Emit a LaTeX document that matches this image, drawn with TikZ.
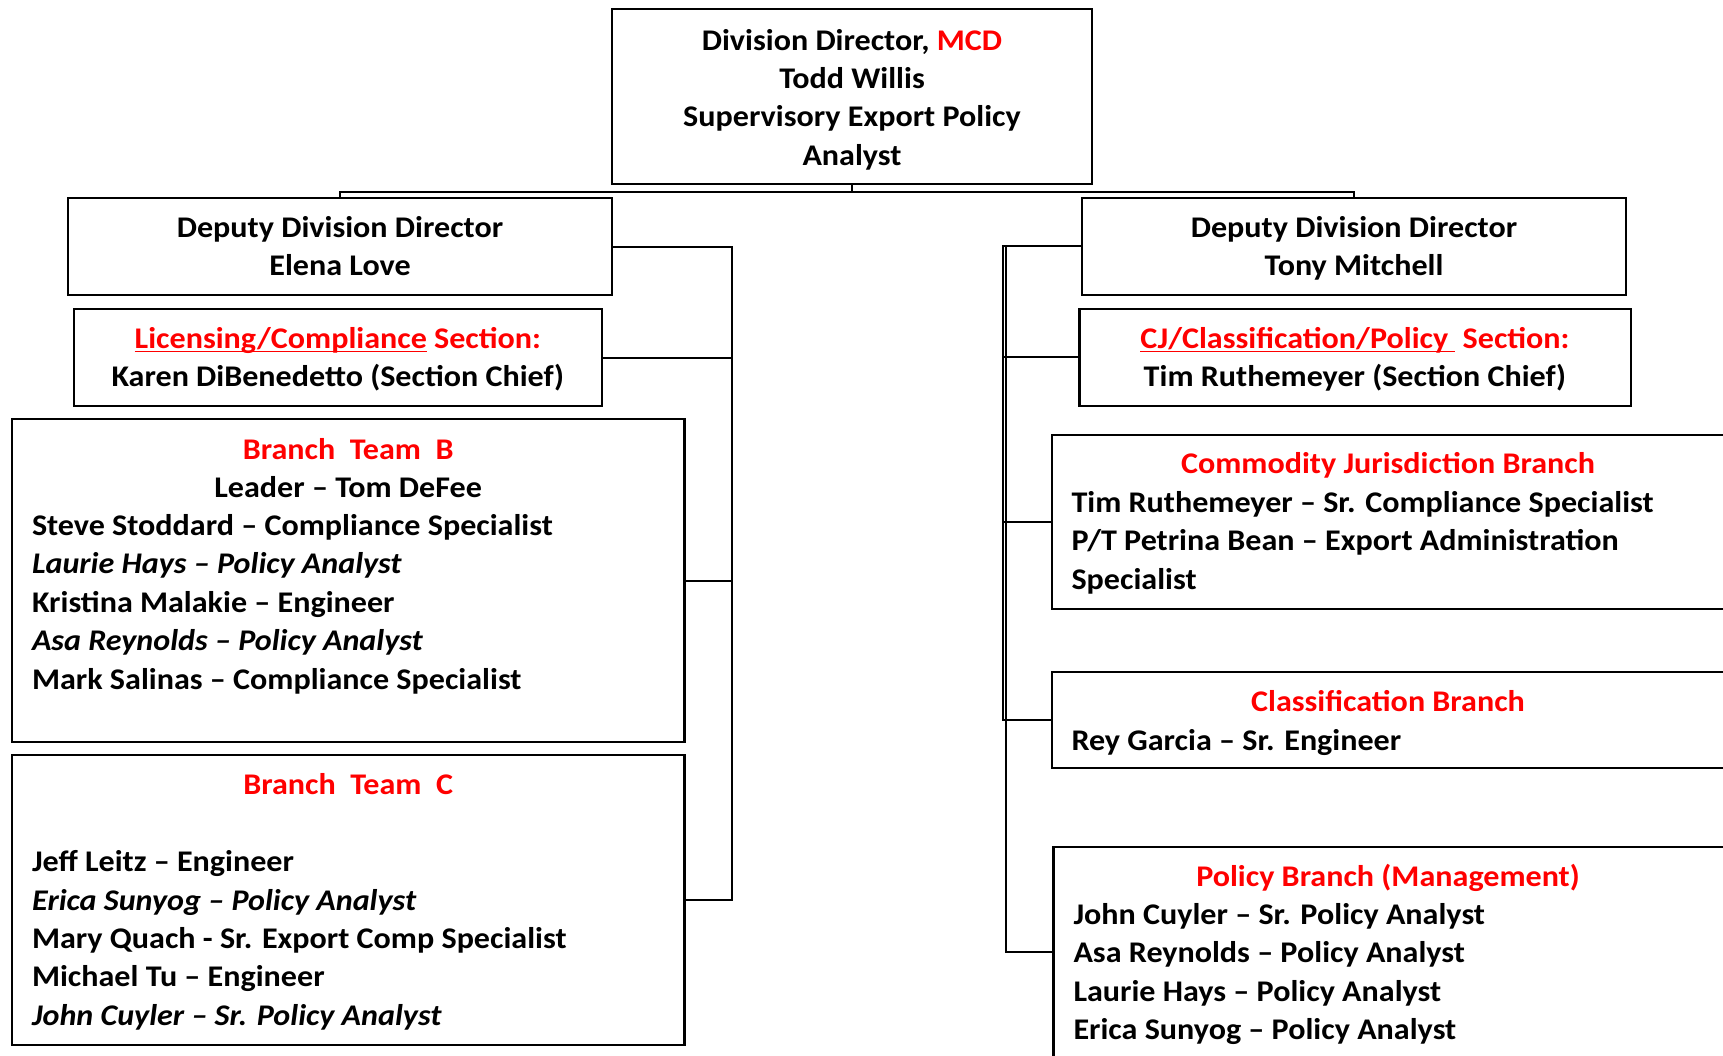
\documentclass[tikz,border=0pt]{standalone}
\usepackage{fontspec}
\setmainfont{Carlito}[FakeStretch=1.07]
\newcommand{\ulbar}[1]{\sbox0{#1}\rlap{\vrule height -2.2pt depth 4pt width \wd0}\usebox0}
\definecolor{mcdred}{RGB}{255,0,0}

\begin{document}
\begin{tikzpicture}[x=1pt,y=-1pt,
	every node/.style={inner sep=0pt,outer sep=0pt,font=\fontsize{30}{36}\selectfont\bfseries},
	box/.style={draw,line width=2.2pt,anchor=north west},
	conn/.style={line width=2pt}]
	\def\ls{38.35}
	\useasboundingbox (0,0) rectangle (1723,1055);
	\clip (0,0) rectangle (1723,1055);

	% boxes
	\node[box,minimum width=480pt,minimum height=174.7pt] (dir) at (612,9.3) {};
	\node[box,minimum width=544.3pt,minimum height=96.7pt] (elena) at (67.9,198.3) {};
	\node[box,minimum width=544pt,minimum height=97.3pt] (tony) at (1082,197.7) {};
	\node[box,minimum width=528.3pt,minimum height=97pt] (lic) at (73.7,309) {};
	\node[box,minimum width=551.2pt,minimum height=96.7pt] (cj) at (1079.5,309) {};
	\node[box,minimum width=672.4pt,minimum height=323pt] (teamB) at (12,419) {};
	\node[box,minimum width=672.4pt,minimum height=290.3pt] (teamC) at (12,755) {};
	\node[box,minimum width=673.4pt,minimum height=174.3pt] (cjb) at (1051.6,434.7) {};
	\node[box,minimum width=673.4pt,minimum height=96pt] (clb) at (1051.6,672.3) {};
	\node[box,minimum width=671.6pt,minimum height=210.3pt] (pol) at (1053.4,846.7) {};

	% connectors
	\coordinate (bus) at (852,191.7);
	\coordinate (spL) at (732,0);
	\coordinate (spR) at (1003,0);
	\coordinate (spP) at (1006,0);
	\draw[conn] (dir.south) -- (bus);
	\draw[conn] (elena.north) |- (bus) -| (tony.north);
	\foreach \c in {lic,teamB,teamC}
		\draw[conn] (elena.east) -| (spL |- \c.east) -- (\c.east);
	\foreach \c in {cj,cjb,clb}
		\draw[conn] (tony.west) -| (spR |- \c.west) -- (\c.west);
	\draw[conn] (tony.west) -| (spP |- pol.west) -- (pol.west);

	% director
	\node[anchor=base] (dirT) at (852,50) {Division Director, \textcolor{mcdred}{MCD}};
	\foreach \t [count=\i] in {Todd Willis,Supervisory Export Policy,Analyst}
		\node[anchor=base] (dir-\i) at (852,{50+\ls*\i}) {\t};

	% deputies and sections
	\node[anchor=base] (elena1) at (340,237.3) {Deputy Division Director};
	\node[anchor=base] (elena2) at (340,275.9) {Elena Love};
	\node[anchor=base] (tony1) at (1354,237.3) {Deputy Division Director};
	\node[anchor=base] (tony2) at (1354,275.9) {Tony Mitchell};
	\node[anchor=base] (lic1) at (337.9,348.3) {\color{mcdred}\ulbar{Licensing/Compliance} Section:};
	\node[anchor=base] (lic2) at (337.9,386.6) {Karen DiBenedetto (Section Chief)};
	\node[anchor=base] (cj1) at (1355,348.3) {\color{mcdred}\ulbar{CJ/Classification/Policy\ }\ Section:};
	\node[anchor=base] (cj2) at (1355,386.6) {Tim Ruthemeyer (Section Chief)};

	% branch team B
	\node[anchor=base] (tb0) at (348.2,459) {\color{mcdred}Branch\ \ Team\ \ B};
	\node[anchor=base] (tbL) at (348.2,497.3) {Leader – Tom DeFee};
	\foreach \t [count=\i] in {Steve Stoddard – Compliance Specialist,\textit{Laurie Hays – Policy Analyst},Kristina Malakie – Engineer,\textit{Asa Reynolds – Policy Analyst},Mark Salinas – Compliance Specialist}
		\node[anchor=base west] (tb\i) at (32,{535.6+\ls*(\i-1)}) {\t};

	% branch team C
	\node[anchor=base] (tc0) at (348.2,794) {\color{mcdred}Branch\ \ Team\ \ C};
	\foreach \t [count=\i] in {Jeff Leitz – Engineer,\textit{Erica Sunyog – Policy Analyst},Mary Quach - Sr. Export Comp Specialist,Michael Tu – Engineer,\textit{John Cuyler – Sr. Policy Analyst}}
		\node[anchor=base west] (tc\i) at (32,{871.7+\ls*(\i-1)}) {\t};

	% right branches
	\node[anchor=base] (cjb0) at (1388,473.3) {\color{mcdred}Commodity Jurisdiction Branch};
	\foreach \t [count=\i] in {Tim Ruthemeyer – Sr. Compliance Specialist,P/T Petrina Bean – Export Administration,Specialist}
		\node[anchor=base west] (cjb\i) at (1071.5,{512.3+\ls*(\i-1)}) {\t};
	\node[anchor=base] (clb0) at (1388,711.7) {\color{mcdred}Classification Branch};
	\node[anchor=base west] (clb1) at (1071.5,750) {Rey Garcia – Sr. Engineer};
	\node[anchor=base] (pol0) at (1388,886) {\color{mcdred}Policy Branch (Management)};
	\foreach \t [count=\i] in {John Cuyler – Sr. Policy Analyst,Asa Reynolds – Policy Analyst,Laurie Hays – Policy Analyst,Erica Sunyog – Policy Analyst}
		\node[anchor=base west] (pol\i) at (1073.5,{924.3+\ls*(\i-1)}) {\t};
\end{tikzpicture}
\end{document}
